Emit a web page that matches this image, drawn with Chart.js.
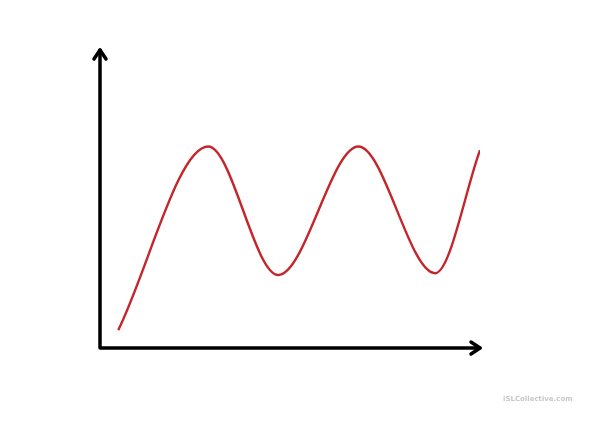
<!DOCTYPE html>
<html>
<head>
<meta charset="utf-8">
<script src="https://cdn.jsdelivr.net/npm/chart.js@4/dist/chart.umd.min.js"></script>
<style>
  html, body { margin: 0; padding: 0; background: #fff; }
  #wrap { width: 601px; height: 425px; }
</style>
</head>
<body>
<div id="wrap"><canvas id="chart"></canvas></div>
<script>
// curve (x and y in 0..100 units): start, peaks, troughs, end
const xValues = [4.8, 28.5, 46.9, 68.0, 88.2, 100];
const yValues = [6.0, 67.6, 24.5, 67.6, 25.1, 66.4];
const watermark = "iSLCollective.com";

const points = xValues.map((x, i) => ({ x: x, y: yValues[i] }));

// draws the two axes with open arrow heads, plus the watermark
const axesPlugin = {
  id: "arrowAxes",
  afterDraw(chart) {
    const c = chart.ctx;
    const xs = chart.scales.x;
    const ys = chart.scales.y;
    const left = xs.getPixelForValue(0);
    const right = xs.getPixelForValue(100);
    const bottom = ys.getPixelForValue(0);
    const top = ys.getPixelForValue(100);
    c.save();
    c.strokeStyle = "#000";
    c.lineWidth = 3.5;
    c.lineCap = "round";
    c.lineJoin = "round";
    c.beginPath();
    c.moveTo(left, top);
    c.lineTo(left, bottom);
    c.lineTo(right, bottom);
    c.stroke();
    // arrow heads
    c.beginPath();
    c.moveTo(left - 6, top + 9);
    c.lineTo(left, top);
    c.lineTo(left + 6, top + 9);
    c.moveTo(right - 9, bottom - 6);
    c.lineTo(right, bottom);
    c.lineTo(right - 9, bottom + 6);
    c.stroke();
    c.fillStyle = "#c8c8c8";
    c.font = "bold 7px 'DejaVu Sans'";
    c.textBaseline = "middle";
    c.fillText(watermark, 503, 399);
    c.restore();
  }
};

const ctx = document.getElementById("chart").getContext("2d");
const myChart = new Chart(ctx, {
  type: "line",
  data: {
    datasets: [
      {
        data: points,
        fill: false,
        borderColor: "#c4262b",
        borderWidth: 2.4,
        pointRadius: 0,
        cubicInterpolationMode: "monotone",
      },
    ],
  },
  options: {
    responsive: true,
    maintainAspectRatio: false,
    animation: false,
    layout: { padding: { left: 100, right: 121, top: 50, bottom: 77 } },
    plugins: { legend: { display: false }, tooltip: { enabled: false } },
    scales: {
      x: { type: "linear", min: 0, max: 100, display: false },
      y: { min: 0, max: 100, display: false },
    },
  },
  plugins: [axesPlugin],
});
</script>
</body>
</html>
